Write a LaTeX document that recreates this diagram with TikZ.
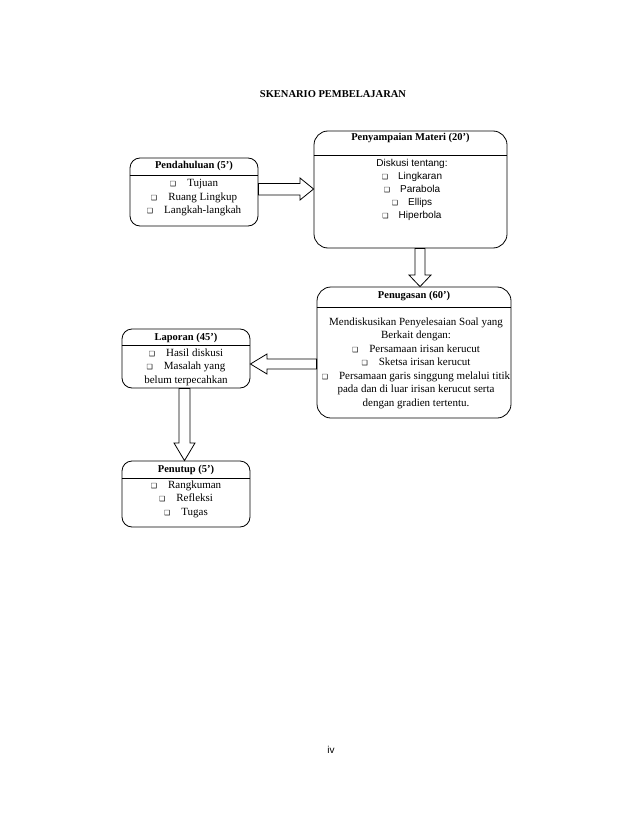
\documentclass[tikz,border=0pt]{standalone}
\usepackage{fontspec}
\setmainfont{Liberation Serif}
\setsansfont{Liberation Sans}
\newfontfamily\dejavu{DejaVu Sans}
\usetikzlibrary{calc}
\newcommand\chk{{\dejavu\fontsize{7}{7}\selectfont ❑}}
\begin{document}
\begin{tikzpicture}[x=1pt,y=-1pt,
  box/.style={draw, line width=0.8pt, rounded corners=10pt, inner sep=0pt},
  fat/.style={draw, line width=0.8pt, fill=white, line join=miter},
  hd/.style={font=\fontsize{10.5}{12}\selectfont\bfseries, inner sep=0pt},
  txt/.style={align=center, inner sep=0pt, font=\fontsize{11}{13.5}\selectfont},
  stxt/.style={align=center, inner sep=0pt, font=\sffamily\fontsize{10}{13}\selectfont},
  sep/.style={line width=0.8pt}]
\useasboundingbox[fill=white] (0,0) rectangle (638,826);

\node[hd] (title) at (333,94) {SKENARIO PEMBELAJARAN};

% boxes
\node[box, minimum width=128pt, minimum height=68pt] (pend) at (194,192) {};
\node[box, rounded corners=14pt, minimum width=193pt, minimum height=117pt] (peny) at (410.5,189.5) {};
\node[box, rounded corners=14pt, minimum width=194pt, minimum height=131pt] (penug) at (414,352.5) {};
\node[box, minimum width=128pt, minimum height=59pt] (lap) at (186,358.5) {};
\node[box, minimum width=128pt, minimum height=66pt] (pen) at (186,494) {};

% block arrows
% pend -> peny
\draw[fat] (peny.west |- 0,189) -- (300,178) -- (300,183.5) -- (pend.east |- 0,183.5)
  -- (pend.east |- 0,195) -- (300,195) -- (300,200) -- cycle;
% peny -> penug
\draw[fat] (penug.north -| 420,0) -- (431,275) -- (425,275) -- (peny.south -| 425,0)
  -- (peny.south -| 415,0) -- (415,275) -- (409,275) -- cycle;
% penug -> lap
\draw[fat] (lap.east |- 0,364) -- (267,354) -- (267,359) -- (penug.west |- 0,359)
  -- (penug.west |- 0,369) -- (267,369) -- (267,374) -- cycle;
% lap -> pen
\draw[fat] (pen.north -| 184.5,0) -- (195,443) -- (190,443) -- (lap.south -| 190,0)
  -- (lap.south -| 179,0) -- (179,443) -- (174,443) -- cycle;

% header separators
\draw[sep] (pend.west |- 0,175) -- (pend.east |- 0,175);
\draw[sep] (peny.west |- 0,155) -- (peny.east |- 0,155);
\draw[sep] (penug.west |- 0,307) -- (penug.east |- 0,307);
\draw[sep] (lap.west |- 0,345) -- (lap.east |- 0,345);
\draw[sep] (pen.west |- 0,478) -- (pen.east |- 0,478);

% headers
\node[hd] (pendh) at (194,166) {Pendahuluan (5’)};
\node[hd] (penyh) at (410.5,138) {Penyampaian Materi (20’)};
\node[hd] (penugh) at (414,296) {Penugasan (60’)};
\node[hd] (laph) at (186,338) {Laporan (45’)};
\node[hd] (penh) at (186,470) {Penutup (5’)};

% contents
\node[txt] (pendt) at (194,198) {\chk\quad Tujuan\\ \chk\quad Ruang Lingkup\\ \chk\quad Langkah-langkah};
\node[stxt] (penyt) at (412,190) {Diskusi tentang:\\ \chk\quad Lingkaran\\ \chk\quad Parabola\\ \chk\quad Ellips\\ \chk\quad Hiperbola};
\node[txt] (penugt) at (416,363) {Mendiskusikan Penyelesaian Soal yang\\ Berkait dengan:\\ \chk\quad Persamaan irisan kerucut\\ \chk\quad Sketsa irisan kerucut\\ \chk\quad Persamaan garis singgung melalui titik\\ pada dan di luar irisan kerucut serta\\ dengan gradien tertentu.};
\node[txt, font=\fontsize{11}{13.5}\selectfont] (lapt) at (186,367) {\chk\quad Hasil diskusi\\ \chk\quad Masalah yang\\ belum terpecahkan};
\node[txt] (pent) at (186,499) {\chk\quad Rangkuman\\ \chk\quad Refleksi\\ \chk\quad Tugas};

\node[inner sep=0pt, font=\sffamily\fontsize{10}{12}\selectfont] (page) at (331,750) {iv};
\end{tikzpicture}
\end{document}
